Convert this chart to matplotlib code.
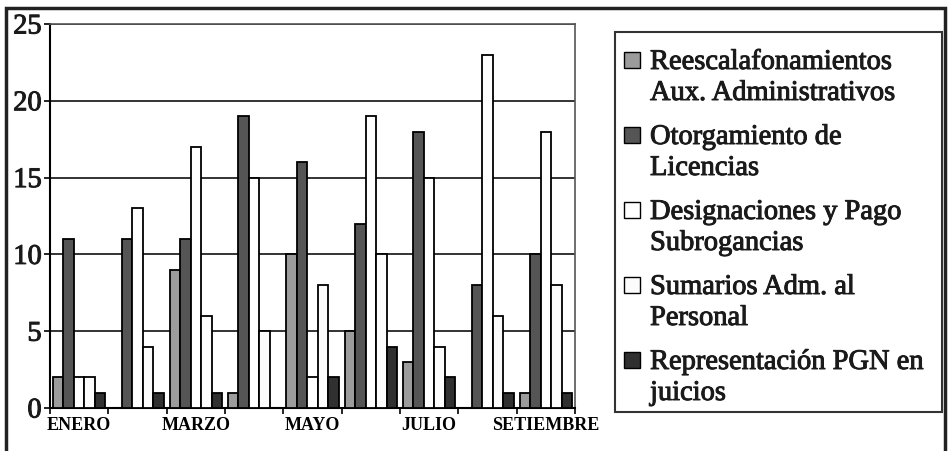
import matplotlib.pyplot as plt
import matplotlib.patheffects as pe
from matplotlib.patches import Rectangle
import numpy as np

# Datos por mes (enero a setiembre)
meses = ["ENERO", "FEBRERO", "MARZO", "ABRIL", "MAYO",
         "JUNIO", "JULIO", "AGOSTO", "SETIEMBRE"]
reescalafonamientos = [2, 0, 9, 1, 10, 5, 3, 0, 1]
licencias = [11, 11, 11, 19, 16, 12, 18, 8, 10]
designaciones = [2, 13, 17, 15, 2, 19, 15, 23, 18]
sumarios = [2, 4, 6, 5, 8, 10, 4, 6, 8]
representacion = [1, 1, 1, 0, 2, 4, 2, 1, 1]

series = [reescalafonamientos, licencias, designaciones, sumarios, representacion]
nombres = [("Reescalafonamientos", "Aux. Administrativos"),
           ("Otorgamiento de", "Licencias"),
           ("Designaciones y Pago", "Subrogancias"),
           ("Sumarios Adm. al", "Personal"),
           ("Representación PGN en", "juicios")]
colores = ["#9c9c9c", "#555555", "#ffffff", "#fcfcfc", "#303030"]

serif = ["Liberation Serif", "DejaVu Serif"]
grueso = [pe.withStroke(linewidth=0.7, foreground="#1a1a1a")]
W, H = 948, 452

fig = plt.figure(figsize=(W / 100, H / 100), dpi=100)
ax = fig.add_axes([50 / W, 43 / H, 525 / W, 384 / H])


def px(x, y):
    # pixeles (origen arriba a la izquierda) a coordenadas de figura
    return x / W, 1 - y / H


x = np.arange(len(meses))
ancho = 0.18
for i, (valores, color) in enumerate(zip(series, colores)):
    ax.bar(x + (i - 2) * ancho, valores, ancho, color=color,
           edgecolor="black", linewidth=1.3, zorder=3)

ax.set_xlim(-0.5, len(meses) - 0.5)
ax.set_ylim(0, 25)
ax.set_yticks([0, 5, 10, 15, 20, 25])
ax.yaxis.grid(True, color="#333333", linewidth=1.4, zorder=0)
ax.tick_params(axis="y", labelsize=20.5, length=4, width=1.2, pad=2)
for t in ax.get_yticklabels():
    t.set_fontfamily(serif)
    t.set_color("#1a1a1a")
    t.set_path_effects(grueso)

# marcas en los límites de cada mes, etiquetas cada dos meses
ax.set_xticks(np.arange(-0.5, len(meses)), minor=True)
ax.tick_params(axis="x", which="minor", length=4, width=1.2)
ax.set_xticks(x[::2])
ax.set_xticklabels(meses[::2])
ax.tick_params(axis="x", which="major", length=0, pad=6)
for t in ax.get_xticklabels():
    t.set_fontfamily(serif)
    t.set_fontsize(13)
    t.set_fontweight("bold")

for lado in ["top", "right"]:
    ax.spines[lado].set_color("#555555")
    ax.spines[lado].set_linewidth(1.2)
ax.spines["left"].set_linewidth(1.5)
ax.spines["bottom"].set_linewidth(1.5)

# leyenda con el cuadro alineado a la primera línea de cada texto
x0, y0 = px(615, 413)
x1, y1 = px(942, 33)
fig.patches.append(Rectangle((x0, y0), x1 - x0, y1 - y0, transform=fig.transFigure,
                             fill=False, edgecolor="#333333", linewidth=1.5))
for i, ((linea1, linea2), color) in enumerate(zip(nombres, colores)):
    base = 70 + 75 * i
    mx, my = px(624, base - 1)
    fig.patches.append(Rectangle((mx, my), 16 / W, 16 / H, transform=fig.transFigure,
                                 facecolor=color, edgecolor="black", linewidth=1.0))
    for j, linea in enumerate((linea1, linea2)):
        tx, ty = px(650, base + 31 * j)
        fig.text(tx, ty, linea, fontsize=20.5, fontfamily=serif, color="#1a1a1a",
                 ha="left", va="baseline", path_effects=grueso)

# marco exterior
fig.patches.append(Rectangle((6 / W, -0.05), 939 / W, 1.05 - 9 / H,
                             transform=fig.transFigure, fill=False,
                             edgecolor="#222222", linewidth=2.5))

fig.savefig("out.png", dpi=100)
